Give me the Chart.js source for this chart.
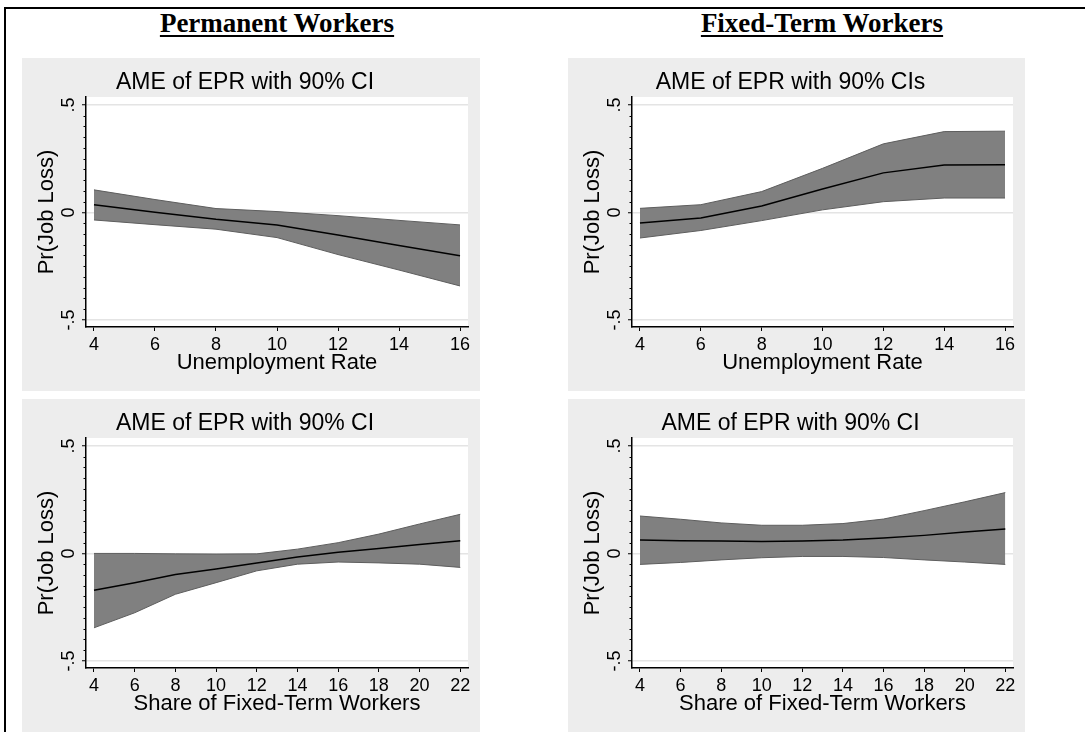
<!DOCTYPE html>
<html>
<head>
<meta charset="utf-8">
<script src="https://cdn.jsdelivr.net/npm/chart.js@4.4.1/dist/chart.umd.min.js"></script>
<style>
    body {
        margin: 0;
        background: #fff;
        overflow: hidden;
        width: 1085px;
        height: 732px;
        position: relative;
    }

    .frame {
        position: absolute;
        left: 4px;
        top: 7px;
        width: 1200px;
        height: 800px;
        border-left: 2px solid #000;
        border-top: 2px solid #000;
    }

    .heading {
        position: absolute;
        top: 10px;
        width: 400px;
        text-align: center;
        font-family: "Liberation Serif", "Times New Roman", serif;
        font-weight: bold;
        font-size: 27px;
        line-height: 27px;
        text-decoration: underline;
        text-decoration-thickness: 2px;
        text-underline-offset: 3px;
    }

    canvas {
        position: absolute;
        background: #ededed;
    }
</style>
</head>
<body>

<div class="frame"></div>

<div class="heading" style="left:77px">Permanent Workers</div>
<div class="heading" style="left:622px">Fixed-Term Workers</div>

<canvas id="graf1" width="458" height="333" style="left:22px;top:58px"></canvas>
<canvas id="graf2" width="457" height="333" style="left:568px;top:58px"></canvas>
<canvas id="graf3" width="458" height="333" style="left:22px;top:399px"></canvas>
<canvas id="graf4" width="457" height="333" style="left:568px;top:399px"></canvas>

<script>
// x values (also the x tick labels)
const unempRate = [4, 6, 8, 10, 12, 14, 16];
const ftShare = [4, 6, 8, 10, 12, 14, 16, 18, 20, 22];

// y axis ticks
const yTicks = [-0.5, 0, 0.5];
const yTickLabels = ['-.5', '0', '.5'];

// permanent workers, by unemployment rate
const permUnempEst = [0.036, 0.001, -0.032, -0.058, -0.105, -0.154, -0.201];
const permUnempHi = [0.105, 0.060, 0.018, 0.004, -0.015, -0.037, -0.058];
const permUnempLo = [-0.035, -0.057, -0.078, -0.117, -0.196, -0.268, -0.342];

// fixed-term workers, by unemployment rate
const ftUnempEst = [-0.049, -0.026, 0.030, 0.109, 0.184, 0.221, 0.222];
const ftUnempHi = [0.019, 0.036, 0.097, 0.205, 0.319, 0.376, 0.378];
const ftUnempLo = [-0.119, -0.084, -0.038, 0.012, 0.050, 0.067, 0.067];

// permanent workers, by share of fixed-term workers
const permShareEst = [-0.171, -0.136, -0.098, -0.072, -0.044, -0.017, 0.005, 0.023, 0.042, 0.059];
const permShareHi = [0.0, 0.0, -0.002, -0.003, -0.002, 0.020, 0.050, 0.090, 0.137, 0.182];
const permShareLo = [-0.346, -0.276, -0.190, -0.136, -0.081, -0.050, -0.040, -0.044, -0.050, -0.065];

// fixed-term workers, by share of fixed-term workers
const ftShareEst = [0.062, 0.059, 0.058, 0.056, 0.058, 0.062, 0.072, 0.084, 0.100, 0.114];
const ftShareHi = [0.174, 0.159, 0.142, 0.131, 0.131, 0.139, 0.160, 0.199, 0.240, 0.283];
const ftShareLo = [-0.051, -0.042, -0.030, -0.020, -0.014, -0.014, -0.019, -0.030, -0.040, -0.051];

Chart.defaults.font.family = '"Liberation Sans", Arial, sans-serif';
Chart.defaults.color = '#000';

// white plot region inside the grey graph region
const plotBackground = {
    id: 'plotBackground',
    beforeDraw(chart) {
        const a = chart.chartArea;
        const ctx = chart.ctx;
        ctx.save();
        ctx.fillStyle = '#fff';
        ctx.fillRect(a.left, a.top, a.right - a.left, a.bottom - a.top);
        ctx.restore();
    }
};

// short minor ticks on the y axis, every .05
const minorTicks = {
    id: 'minorTicks',
    afterDraw(chart) {
        const y = chart.scales.y;
        const ctx = chart.ctx;
        ctx.save();
        ctx.strokeStyle = '#000';
        ctx.lineWidth = 1;
        for (let k = -10; k <= 10; k++) {
            if (k % 10 === 0) continue;
            const py = Math.round(y.getPixelForValue(k * 0.05)) + 0.5;
            ctx.beginPath();
            ctx.moveTo(y.right - 2.5, py);
            ctx.lineTo(y.right, py);
            ctx.stroke();
        }
        ctx.restore();
    }
};

function pontos(xs, ys) {
    return xs.map((x, i) => ({ x: x, y: ys[i] }));
}

function construirGrafico(id, titulo, rotuloX, xs, est, hi, lo, xMin, xMax) {

    new Chart(document.getElementById(id), {
        type: 'line',
        data: {
            datasets: [
                {
                    data: pontos(xs, est),
                    borderColor: '#000',
                    borderWidth: 1.5,
                    fill: false
                },
                {
                    data: pontos(xs, hi),
                    borderColor: '#5e5e5e',
                    borderWidth: 1,
                    fill: false
                },
                {
                    data: pontos(xs, lo),
                    borderColor: '#5e5e5e',
                    borderWidth: 1,
                    backgroundColor: '#808080',
                    fill: '-1'
                }
            ]
        },
        options: {
            responsive: false,
            animation: false,
            devicePixelRatio: 1,
            layout: {
                padding: { left: 0, right: 12, top: 0, bottom: 0 }
            },
            elements: {
                point: { radius: 0 },
                line: { tension: 0 }
            },
            plugins: {
                legend: { display: false },
                tooltip: { enabled: false },
                title: {
                    display: true,
                    text: titulo,
                    color: '#000',
                    font: { size: 23, weight: 'normal' },
                    padding: { top: 11.2, bottom: 0.2 }
                }
            },
            scales: {
                x: {
                    type: 'linear',
                    min: xMin,
                    max: xMax,
                    afterBuildTicks: s => {
                        s.ticks = xs.map(v => ({ value: v }));
                    },
                    afterFit: s => {
                        s.height = 64;
                    },
                    border: { color: '#000', width: 1.5 },
                    grid: {
                        drawOnChartArea: false,
                        tickLength: 4,
                        tickColor: '#000',
                        tickWidth: 1
                    },
                    ticks: {
                        color: '#000',
                        font: { size: 18 },
                        padding: 3,
                        maxRotation: 0,
                        autoSkip: false
                    },
                    title: {
                        display: true,
                        text: rotuloX,
                        color: '#000',
                        font: { size: 22 },
                        padding: { top: 0, bottom: 15 }
                    }
                },
                y: {
                    min: -0.533,
                    max: 0.537,
                    afterBuildTicks: s => {
                        s.ticks = yTicks.map(v => ({ value: v }));
                    },
                    afterFit: s => {
                        s.width = 64;
                    },
                    border: { color: '#000', width: 1.5 },
                    grid: {
                        color: '#e4e4e4',
                        lineWidth: 1.5,
                        tickLength: 4,
                        tickColor: '#000',
                        tickWidth: 1
                    },
                    ticks: {
                        color: '#000',
                        font: { size: 18 },
                        padding: 2,
                        minRotation: 90,
                        maxRotation: 90,
                        crossAlign: 'center',
                        callback: (v, i) => yTickLabels[i]
                    },
                    title: {
                        display: true,
                        text: 'Pr(Job Loss)',
                        color: '#000',
                        font: { size: 22 },
                        padding: { top: 12, bottom: 0 }
                    }
                }
            }
        },
        plugins: [plotBackground, minorTicks]
    });
}

construirGrafico('graf1', 'AME of EPR with 90% CI', 'Unemployment Rate',
    unempRate, permUnempEst, permUnempHi, permUnempLo, 3.738, 16.262);

construirGrafico('graf2', 'AME of EPR with 90% CIs', 'Unemployment Rate',
    unempRate, ftUnempEst, ftUnempHi, ftUnempLo, 3.738, 16.262);

construirGrafico('graf3', 'AME of EPR with 90% CI', 'Share of Fixed-Term Workers',
    ftShare, permShareEst, permShareHi, permShareLo, 3.607, 22.38);

construirGrafico('graf4', 'AME of EPR with 90% CI', 'Share of Fixed-Term Workers',
    ftShare, ftShareEst, ftShareHi, ftShareLo, 3.607, 22.38);
</script>
</body>
</html>
